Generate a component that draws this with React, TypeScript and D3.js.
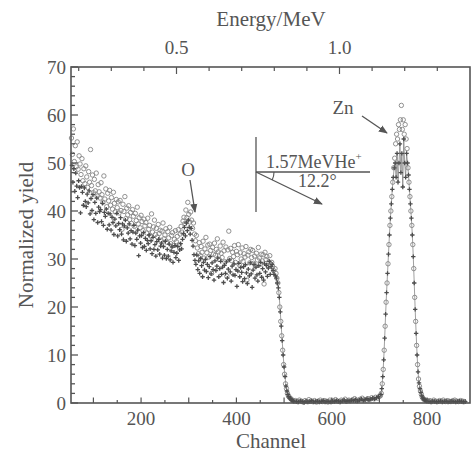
import React from "react";
import * as d3 from "d3";

// ---------- data ----------
// Background (matrix) region, open circles: channel 54..478 step 2
const circleBgStart = 54, circleBgStep = 2;
const circleBg = [
  55.2, 51.8, 57.1, 50.3, 53.6, 49.2, 54.4, 48.7, 51.5, 49.8,
  47.6, 50.9, 46.3, 48.8, 45.7, 49.4, 47.1, 44.9, 48.2, 46.0,
  52.8, 45.3, 47.5, 43.8, 46.6, 44.2, 47.9, 43.1, 45.5, 44.0,
  42.7, 45.9, 43.4, 41.8, 47.3, 42.5, 44.6, 40.9, 43.7, 42.1,
  44.3, 41.2, 42.8, 40.4, 43.9, 41.6, 39.8, 42.4, 40.7, 41.9,
  39.6, 42.2, 40.1, 36.2, 41.4, 39.9, 43.0, 38.4, 40.6, 39.2,
  41.1, 38.2, 39.7, 37.4, 40.3, 38.9, 36.8, 39.5, 38.0, 40.8,
  37.3, 38.6, 36.5, 39.1, 37.8, 35.9, 38.3, 36.9, 37.6, 35.4,
  38.5, 36.2, 37.0, 34.8, 39.4, 35.6, 36.7, 38.1, 35.1, 36.4,
  34.6, 37.2, 35.3, 36.0, 33.9, 35.8, 37.5, 34.2, 35.0, 36.3,
  33.5, 35.7, 34.4, 36.6, 33.2, 34.9, 35.5, 32.8, 34.1, 35.9,
  33.6, 34.7, 36.1, 33.0, 35.2, 36.8, 35.6, 37.9, 38.7, 37.4,
  40.2, 38.6, 41.8, 39.3, 37.7, 39.8, 38.1, 36.4, 37.5, 35.2,
  33.8, 34.9, 32.3, 31.1, 33.4, 30.7, 32.6, 31.4, 33.7, 30.2,
  32.1, 34.5, 31.3, 32.9, 30.4, 33.1, 31.8, 27.0, 32.4, 31.0,
  33.3, 30.8, 32.0, 34.2, 31.5, 29.9, 32.7, 31.2, 30.3, 33.5,
  31.7, 29.4, 32.5, 26.4, 31.9, 35.8, 30.1, 32.2, 29.7, 31.4,
  30.5, 32.8, 29.3, 31.6, 30.9, 33.0, 28.8, 31.3, 30.0, 32.3,
  29.5, 31.1, 30.4, 32.6, 25.6, 30.8, 31.5, 29.2, 32.0, 30.3,
  31.8, 29.1, 30.6, 28.5, 31.2, 29.8, 32.4, 30.2, 28.9, 31.0,
  29.6, 30.9, 24.8, 31.4, 29.9, 30.5, 28.6, 29.4, 30.7, 28.8,
  29.3, 28.4, 27.6,
];
// Background region, plus markers: channel 55..479 step 2
const plusBgStart = 55, plusBgStep = 2;
const plusBg = [
  49.5, 46.0, 48.8, 44.1, 47.9, 45.2, 42.8, 46.3, 44.9, 39.6,
  45.1, 43.9, 41.2, 44.8, 42.0, 40.9, 43.5, 41.7, 44.2, 39.4,
  42.6, 40.1, 43.4, 38.2, 41.8, 39.5, 42.7, 37.6, 40.8, 39.9,
  40.3, 37.8, 41.6, 37.0, 39.7, 38.9, 40.4, 36.2, 39.5, 37.1,
  39.4, 36.0, 38.7, 37.6, 35.1, 38.3, 36.9, 39.5, 34.8, 37.4,
  36.1, 38.6, 35.2, 37.3, 34.0, 36.9, 38.1, 33.7, 36.5, 35.4,
  37.3, 34.2, 35.9, 33.1, 35.6, 37.0, 32.8, 35.4, 34.1, 36.0,
  30.7, 34.8, 33.3, 34.9, 32.4, 35.5, 32.6, 34.3, 31.8, 33.9,
  33.2, 35.0, 32.1, 33.8, 31.1, 34.5, 32.0, 33.0, 30.6, 33.6,
  31.9, 34.1, 31.0, 32.7, 33.3, 30.2, 32.6, 30.8, 33.7, 30.1,
  32.0, 30.6, 33.1, 29.8, 31.7, 32.5, 29.3, 31.4, 32.8, 30.3,
  31.2, 32.6, 29.7, 31.9, 33.2, 32.1, 34.1, 35.3, 36.6, 34.8,
  37.5, 35.9, 38.1, 36.6, 35.2, 36.4, 33.9, 32.7, 30.9, 29.7,
  28.9, 30.8, 27.8, 29.6, 27.0, 30.1, 28.6, 26.3, 29.3, 27.7,
  29.9, 27.4, 28.9, 26.1, 28.4, 30.5, 26.9, 29.2, 27.8, 25.6,
  29.6, 27.6, 28.5, 30.2, 26.3, 28.0, 29.5, 26.8, 28.3, 25.1,
  28.7, 27.0, 29.4, 26.0, 27.9, 29.8, 27.3, 25.4, 28.5, 26.7,
  29.0, 26.6, 27.8, 24.3, 27.5, 29.1, 26.3, 28.2, 27.2, 25.3,
  28.4, 25.9, 28.8, 27.1, 24.9, 27.9, 26.5, 29.2, 26.9, 24.1,
  27.7, 28.9, 26.0, 28.3, 26.7, 25.4, 28.6, 27.0, 29.3, 26.2,
  28.0, 25.6, 29.0, 27.3, 28.7, 26.4, 28.1, 29.5, 26.8, 28.4,
  28.9, 27.6, 26.8,
];
// Matrix edge
const circleEdgeStart = 481, circleEdgeStep = 2;
const circleEdge = [28, 27, 26, 25, 23, 20, 17, 14, 11, 8, 6, 4, 3, 2, 1.5, 1.2, 1, 0.8, 0.6, 0.5, 0.4];
const plusEdgeStart = 482, plusEdgeStep = 2;
const plusEdge = [26.5, 26, 25, 24, 22, 19, 16, 13, 10, 7.5, 5.5, 3.5, 2.5, 1.8, 1.3, 1, 0.8, 0.6, 0.5, 0.4];
// Baseline between edge and Zn peak
const circleBaseStart = 524, circleBaseStep = 4;
const circleBase = [
  0.5, 0.3, 0.6, 0.4, 0.2, 0.5, 0.3, 0.7, 0.4, 0.3,
  0.5, 0.2, 0.4, 0.6, 0.3, 0.5, 0.4, 0.2, 0.6, 0.3,
  0.5, 0.7, 0.4, 0.3, 0.6, 0.5, 0.8, 0.4, 0.6, 0.5,
  0.7, 0.9, 0.5, 0.6, 0.8, 1.0, 0.7, 0.6, 0.9, 0.8,
  1.1, 0.9, 1.2, 1.0, 1.4,
];
const plusBaseStart = 526, plusBaseStep = 4;
const plusBase = [
  0.3, 0.2, 0.4, 0.3, 0.1, 0.4, 0.2, 0.3, 0.5, 0.2,
  0.3, 0.4, 0.2, 0.3, 0.5, 0.2, 0.4, 0.3, 0.2, 0.4,
  0.3, 0.5, 0.4, 0.2, 0.4, 0.6, 0.3, 0.5, 0.4, 0.6,
  0.5, 0.7, 0.4, 0.6, 0.8, 0.5, 0.7, 0.9, 0.6, 0.8,
  1.0, 0.8, 1.1, 1.3,
];
// Zn surface peak
const circleZnStart = 702, circleZnStep = 2;
const circleZn = [
  1.5, 2, 4, 7, 11, 16, 21, 25, 29, 33,
  37, 40, 43, 46, 49, 51, 54, 56, 55, 58,
  57, 59, 62, 57, 59, 56, 58, 55, 53, 49,
  46, 43, 40, 37, 33, 28, 22, 17, 12, 8,
  5, 3.5, 2.5, 1.8, 1.2, 0.9, 0.7, 0.6, 0.5, 0.5,
];
const plusZnStart = 703, plusZnStep = 2;
const plusZn = [
  1.8, 3, 5.5, 9, 13.5, 18.5, 23, 27, 31, 35,
  38.5, 41.5, 44.5, 47, 49, 50, 47, 52, 46, 50,
  54, 48, 52, 45, 55, 50, 47, 52, 50, 47.5,
  44.5, 41.5, 38.5, 35, 30.5, 25, 19.5, 14.5, 10, 6.5,
  4.2, 3, 2.2, 1.5, 1, 0.8, 0.6, 0.5, 0.4,
];
// Tail after the Zn peak
const circleTailStart = 802, circleTailStep = 4;
const circleTail = [0.4, 0.5, 0.3, 0.6, 0.4, 0.3, 0.5, 0.4, 0.6, 0.3, 0.5, 0.4, 0.3, 0.5, 0.6, 0.4, 0.3, 0.5, 0.4, 0.3];
const plusTailStart = 804, plusTailStep = 4;
const plusTail = [0.3, 0.2, 0.4, 0.3, 0.2, 0.3, 0.4, 0.2, 0.3, 0.4, 0.2, 0.3, 0.4, 0.3, 0.2, 0.3, 0.4, 0.3, 0.2, 0.3];

const yTicks = [0, 10, 20, 30, 40, 50, 60, 70];
const xTickLabels = [200, 400, 600, 800];
const energyTickLabels = [0.5, 1.0];

type P = { ch: number; y: number };
const seg = (start: number, step: number, vals: number[]): P[] =>
  vals.map((v, i) => ({ ch: start + i * step, y: v }));

const circleBgPts = seg(circleBgStart, circleBgStep, circleBg);
const plusBgPts = seg(plusBgStart, plusBgStep, plusBg);
const circleRest: P[] = [
  ...seg(circleEdgeStart, circleEdgeStep, circleEdge),
  ...seg(circleBaseStart, circleBaseStep, circleBase),
  ...seg(circleZnStart, circleZnStep, circleZn),
  ...seg(circleTailStart, circleTailStep, circleTail),
];
const plusRest: P[] = [
  ...seg(plusEdgeStart, plusEdgeStep, plusEdge),
  ...seg(plusBaseStart, plusBaseStep, plusBase),
  ...seg(plusZnStart, plusZnStep, plusZn),
  ...seg(plusTailStart, plusTailStep, plusTail),
];
const circles = [...circleBgPts, ...circleRest];
const pluses = [...plusBgPts, ...plusRest];

const FONT = "'Liberation Serif', 'DejaVu Serif', serif";
const INK = "#555";

export default function App() {
  const x = d3.scaleLinear().domain([53, 890]).range([71, 470]);
  const y = d3.scaleLinear().domain([0, 70]).range([403, 67]);
  const e = d3.scaleLinear().domain([0.5, 1.0]).range([176.5, 339.5]);
  const [x0, x1] = x.range();
  const [y0, y1] = y.range();

  const yMinor = d3.range(0, 71, 2);
  const xMinor = d3.range(100, 881, 50);
  const eMinor = d3.range(2, 14).map((k) => k / 10);

  const line = d3
    .line<P>()
    .x((d) => x(d.ch))
    .y((d) => y(d.y));

  return (
    <svg width={474} height={452} style={{ display: "block", position: "absolute", left: 0, top: 0 }}>
      <rect width={474} height={452} fill="#fff" />
      {/* data */}
      <path d={line(plusRest) || ""} fill="none" stroke="#777" strokeWidth={0.7} />
      {circles.map((d, i) => (
        <circle key={"c" + i} cx={x(d.ch)} cy={y(d.y)} r={2.2} fill="none" stroke="#858585" strokeWidth={0.9} />
      ))}
      {pluses.map((d, i) => (
        <path
          key={"p" + i}
          d={`M${x(d.ch) - 2.2},${y(d.y)}h4.4M${x(d.ch)},${y(d.y) - 2.2}v4.4`}
          stroke="#4d4d4d"
          strokeWidth={1.3}
        />
      ))}

      {/* frame */}
      <rect x={x0} y={y1} width={x1 - x0} height={y0 - y1} fill="none" stroke={INK} strokeWidth={1.6} />

      {/* left axis ticks */}
      {yMinor.map((v) => (
        <line key={"ym" + v} x1={x0} x2={x0 + (v % 10 === 0 ? 7 : 4)} y1={y(v)} y2={y(v)} stroke={INK} strokeWidth={1.3} />
      ))}
      {yTicks.map((v) => (
        <text key={"yl" + v} x={66} y={y(v)} dy="0.35em" textAnchor="end" fontFamily={FONT} fontSize={19} fill={INK}>
          {v}
        </text>
      ))}

      {/* bottom axis ticks */}
      {xMinor.map((v) => (
        <line key={"xm" + v} x1={x(v)} x2={x(v)} y1={y0} y2={y0 - (v % 100 === 0 ? 5.5 : 3)} stroke={INK} strokeWidth={1.2} />
      ))}
      {xTickLabels.map((v) => (
        <text key={"xl" + v} x={x(v)} y={425} textAnchor="middle" fontFamily={FONT} fontSize={19} fill={INK}>
          {v}
        </text>
      ))}

      {/* top axis (energy) */}
      {eMinor.map((v) => (
        <line
          key={"em" + v}
          x1={e(v)}
          x2={e(v)}
          y1={y1}
          y2={y1 + (Math.abs(v - 0.5) < 1e-9 || Math.abs(v - 1) < 1e-9 ? 7 : 4)}
          stroke={INK}
          strokeWidth={1.2}
        />
      ))}
      {energyTickLabels.map((v) => (
        <text key={"el" + v} x={e(v)} y={54} textAnchor="middle" fontFamily={FONT} fontSize={19} fill={INK}>
          {v.toFixed(1)}
        </text>
      ))}

      {/* axis titles */}
      <text x={271} y={26} textAnchor="middle" fontFamily={FONT} fontSize={21} fill={INK}>
        Energy/MeV
      </text>
      <text x={271} y={448} textAnchor="middle" fontFamily={FONT} fontSize={21} fill={INK}>
        Channel
      </text>
      <text
        transform={`translate(33,${(y0 + y1) / 2}) rotate(-90)`}
        textAnchor="middle"
        fontFamily={FONT}
        fontSize={21}
        fill={INK}
      >
        Normalized yield
      </text>

      {/* annotations */}
      <defs>
        <marker id="ah" viewBox="0 0 10 10" refX={9} refY={5} markerWidth={9} markerHeight={9} orient="auto" markerUnits="userSpaceOnUse">
          <path d="M0,1L10,5L0,9z" fill={INK} />
        </marker>
      </defs>
      <text x={188} y={176} textAnchor="middle" fontFamily={FONT} fontSize={19} fill={INK}>
        O
      </text>
      <line x1={190} y1={180} x2={195} y2={212} stroke={INK} strokeWidth={1.3} markerEnd="url(#ah)" />
      <text x={343} y={114} textAnchor="middle" fontFamily={FONT} fontSize={19} fill={INK}>
        Zn
      </text>
      <line x1={362} y1={116} x2={387} y2={133} stroke={INK} strokeWidth={1.3} markerEnd="url(#ah)" />

      {/* geometry inset */}
      <line x1={256} y1={137} x2={256} y2={212} stroke={INK} strokeWidth={1.3} />
      <line x1={256} y1={172} x2={370} y2={172} stroke={INK} strokeWidth={1.3} />
      <line x1={256} y1={172} x2={322} y2={204} stroke={INK} strokeWidth={1.3} markerEnd="url(#ah)" />
      <path d="M274,172 A18,18 0 0 1 272.2,180" fill="none" stroke={INK} strokeWidth={1.1} />
      <text x={266} y={168} fontFamily={FONT} fontSize={18} fill={INK}>
        1.57MeVHe
        <tspan fontSize={11} dy={-8}>+</tspan>
      </text>
      <text x={298} y={187} fontFamily={FONT} fontSize={18} fill={INK}>
        12.2°
      </text>
    </svg>
  );
}
